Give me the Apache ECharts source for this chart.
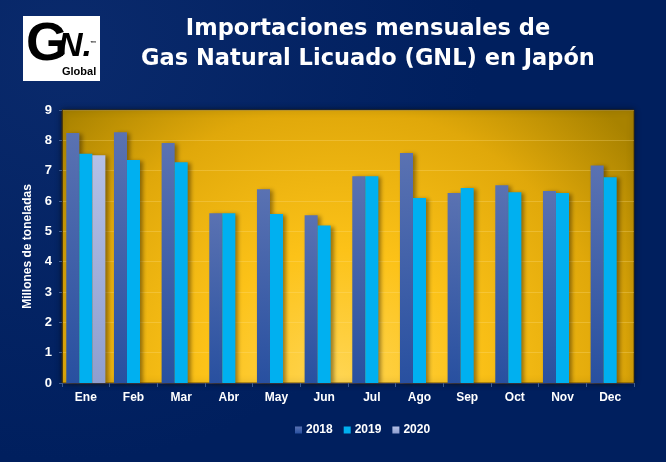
<!DOCTYPE html>
<html>
<head>
<meta charset="utf-8">
<script src="https://cdn.jsdelivr.net/npm/echarts@6/dist/echarts.min.js"></script>
<style>
  html, body { margin: 0; padding: 0; background: #002060; }
  #chart { width: 666px; height: 462px; }
</style>
</head>
<body>
<div id="chart"></div>
<script>
// data (millions of tonnes)
var months = ['Ene', 'Feb', 'Mar', 'Abr', 'May', 'Jun', 'Jul', 'Ago', 'Sep', 'Oct', 'Nov', 'Dec'];
var v2018 = [8.24, 8.27, 7.91, 5.60, 6.39, 5.53, 6.82, 7.58, 6.26, 6.52, 6.33, 7.17];
var v2019 = [7.56, 7.35, 7.28, 5.60, 5.57, 5.19, 6.82, 6.10, 6.43, 6.29, 6.26, 6.78];
var v2020 = [7.51, null, null, null, null, null, null, null, null, null, null, null];
var yTicks = [0, 1, 2, 3, 4, 5, 6, 7, 8, 9];

var myChart = echarts.init(document.getElementById('chart'));

var barShadow = {
    shadowColor: 'rgba(40, 25, 0, 0.45)',
    shadowBlur: 4,
    shadowOffsetX: 3,
    shadowOffsetY: 1
};

function vgrad(top, bottom) {
    return new echarts.graphic.LinearGradient(0, 0, 0, 1, [
        { offset: 0, color: top },
        { offset: 1, color: bottom }
    ]);
}

var titleFont = 'bold 22.5px "DejaVu Sans", sans-serif';

var option = {
    backgroundColor: new echarts.graphic.RadialGradient(0.1, 0.1, 0.9, [
        { offset: 0, color: '#0a2a6c' },
        { offset: 1, color: '#001f5e' }
    ]),
    textStyle: { fontFamily: 'Liberation Sans, Arial, sans-serif' },
    graphic: [
        // logo
        { type: 'rect', left: 23, top: 16, shape: { width: 77, height: 65 }, style: { fill: '#ffffff' } },
        { type: 'text', left: 26, top: 18, style: { text: 'G', fill: '#000', font: 'bold 54px "Liberation Sans", Arial' } },
        { type: 'text', left: 58, top: 30, style: { text: 'N.', fill: '#000', font: 'italic bold 34px "Liberation Sans", Arial' } },
        { type: 'text', left: 90, top: 40, style: { text: '™', fill: '#000', font: 'bold 6px "Liberation Sans", Arial' } },
        { type: 'text', left: 62, top: 66, style: { text: 'Global', fill: '#000', font: 'bold 11px "Liberation Sans", Arial' } },
        // title
        { type: 'text', x: 368, y: 18, style: { text: 'Importaciones mensuales de', fill: '#fff', align: 'center', font: titleFont,
            textShadowColor: 'rgba(0,0,0,0.6)', textShadowOffsetX: 1, textShadowOffsetY: 1 } },
        { type: 'text', x: 368, y: 48, style: { text: 'Gas Natural Licuado (GNL) en Japón', fill: '#fff', align: 'center', font: titleFont,
            textShadowColor: 'rgba(0,0,0,0.6)', textShadowOffsetX: 1, textShadowOffsetY: 1 } }
    ],
    grid: {
        left: 62,
        right: 32,
        top: 110,
        bottom: 79,
        show: true,
        borderWidth: 1,
        borderColor: 'rgba(70, 50, 0, 0.8)',
        backgroundColor: new echarts.graphic.RadialGradient(0.48, 1.0, 1.4, [
            { offset: 0, color: '#ffd654' },
            { offset: 0.35, color: '#fcc218' },
            { offset: 0.72, color: '#e0a80a' },
            { offset: 1, color: '#a88200' }
        ]),
        shadowColor: 'rgba(0, 0, 0, 0.5)',
        shadowBlur: 6
    },
    legend: {
        left: 290,
        top: 419,
        itemWidth: 7,
        itemHeight: 7,
        itemGap: 11,
        icon: 'rect',
        textStyle: { color: '#fff', fontWeight: 'bold', fontSize: 12, padding: [0, 0, 0, -1] },
        data: ['2018', '2019', '2020']
    },
    xAxis: {
        type: 'category',
        data: months,
        axisLine: { lineStyle: { color: '#3a3a50', width: 1 } },
        axisTick: { show: true, lineStyle: { color: '#3c5a90' }, length: 4 },
        axisLabel: { color: '#fff', fontWeight: 'bold', fontSize: 12, margin: 9 }
    },
    yAxis: {
        type: 'value',
        min: yTicks[0],
        max: yTicks[yTicks.length - 1],
        interval: 1,
        name: 'Millones de toneladas',
        nameLocation: 'middle',
        nameGap: 28,
        nameTextStyle: { color: '#fff', fontWeight: 'bold', fontSize: 12 },
        axisLine: { show: true, lineStyle: { color: '#4a3a10' } },
        axisTick: { show: true, lineStyle: { color: '#3c5a90' }, length: 3 },
        axisLabel: { color: '#fff', fontWeight: 'bold', fontSize: 13, margin: 10 },
        splitLine: { lineStyle: { color: 'rgba(255, 225, 140, 0.28)', width: 1 } }
    },
    series: [
        {
            name: '2018',
            type: 'bar',
            data: v2018,
            barGap: '0%',
            barCategoryGap: '18%',
            itemStyle: Object.assign({ color: vgrad('#5a72b2', '#2850a0') }, barShadow)
        },
        {
            name: '2019',
            type: 'bar',
            data: v2019,
            itemStyle: Object.assign({ color: '#00b0f0' }, barShadow)
        },
        {
            name: '2020',
            type: 'bar',
            data: v2020,
            itemStyle: Object.assign({ color: vgrad('#b4c0e6', '#8e9ecf') }, barShadow)
        }
    ]
};

myChart.setOption(option);
</script>
</body>
</html>
